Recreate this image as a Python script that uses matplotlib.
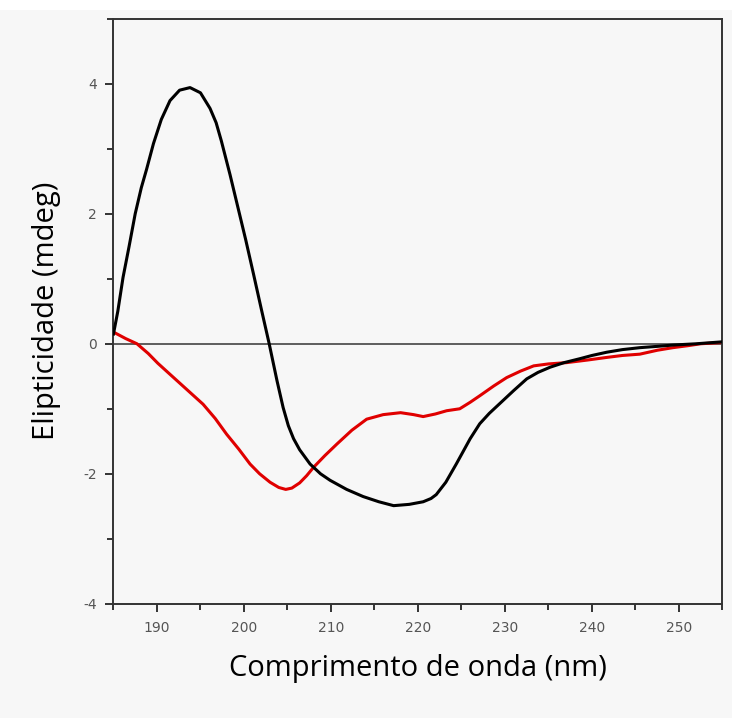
import numpy as np
import matplotlib.pyplot as plt
from matplotlib.patches import Rectangle
from matplotlib.ticker import MultipleLocator

plt.rcParams['axes.unicode_minus'] = False

# CD spectra (wavelength nm, ellipticity mdeg)
wl_black = [185.0, 185.5, 186.1, 186.8, 187.5, 188.2, 188.8, 189.6, 190.5, 191.5, 192.6,
            193.8, 195.0, 196.1, 196.8, 197.4, 198.4, 199.3, 200.2, 201.1, 202.0, 202.9,
            203.8, 204.5, 205.1, 205.7, 206.4, 207.6, 208.8, 209.9, 211.8, 213.7, 215.5,
            217.2, 219.0, 220.6, 221.5, 222.1, 223.2, 224.4, 226.0, 227.1, 228.2, 229.4,
            231.0, 232.5, 233.8, 235.2, 236.8, 238.6, 240.0, 241.7, 243.5, 245.5, 247.5,
            249.3, 252.0, 255.0]
cd_black = [0.15, 0.50, 1.02, 1.50, 2.00, 2.40, 2.68, 3.08, 3.45, 3.74, 3.90,
            3.94, 3.86, 3.62, 3.40, 3.12, 2.60, 2.10, 1.60, 1.07, 0.53, 0.00,
            -0.57, -0.98, -1.26, -1.46, -1.63, -1.85, -2.00, -2.10, -2.24, -2.35, -2.43,
            -2.49, -2.47, -2.43, -2.38, -2.32, -2.13, -1.85, -1.46, -1.23, -1.07, -0.92,
            -0.72, -0.54, -0.44, -0.36, -0.29, -0.23, -0.18, -0.13, -0.09, -0.06, -0.04,
            -0.02, 0.00, 0.03]

wl_red = [185.0, 186.4, 187.7, 189.0, 190.1, 191.5, 193.4, 195.3, 196.7, 198.0, 199.4,
          200.7, 201.8, 203.0, 204.0, 204.8, 205.5, 206.4, 207.2, 208.0, 209.3, 210.7,
          212.4, 214.1, 216.0, 218.0, 219.5, 220.6, 222.0, 223.3, 224.8, 226.0, 227.1,
          228.7, 230.2, 231.8, 233.3, 235.0, 237.1, 239.5, 241.7, 243.5, 245.5, 247.5,
          249.3, 251.0, 252.5, 255.0]
cd_red = [0.18, 0.08, 0.00, -0.15, -0.30, -0.47, -0.70, -0.93, -1.15, -1.39, -1.62,
          -1.85, -2.00, -2.13, -2.21, -2.24, -2.22, -2.14, -2.03, -1.90, -1.72, -1.54,
          -1.33, -1.16, -1.09, -1.06, -1.09, -1.12, -1.08, -1.03, -1.00, -0.90, -0.80,
          -0.65, -0.52, -0.42, -0.34, -0.31, -0.29, -0.25, -0.21, -0.18, -0.16, -0.10,
          -0.06, -0.03, 0.00, 0.02]

bg = '#f7f7f7'
fig = plt.figure(figsize=(7.32, 7.18), dpi=100, facecolor=bg)
fig.patches.append(Rectangle((0, 0.986), 1, 0.014, transform=fig.transFigure,
                             facecolor='white', edgecolor='none', zorder=0))
ax = fig.add_axes([0.155, 0.159, 0.832, 0.815])
ax.set_facecolor(bg)

ax.axhline(0, color='#444444', lw=1.2, zorder=1)
ax.plot(wl_red, cd_red, color='#e00000', lw=2.2, zorder=2, solid_joinstyle='round')
ax.plot(wl_black, cd_black, color='black', lw=2.2, zorder=3, solid_joinstyle='round')

ax.set_xlim(185, 255)
ax.set_ylim(-4, 5)
ax.xaxis.set_minor_locator(MultipleLocator(5))
ax.yaxis.set_minor_locator(MultipleLocator(1))
ax.set_yticks([-4, -2, 0, 2, 4])
ax.set_xticks([190, 200, 210, 220, 230, 240, 250])

for s in ax.spines.values():
    s.set_color('#333333')
    s.set_linewidth(1.4)
ax.tick_params(which='major', length=6, width=1.4, color='#333333',
               labelsize=10, labelcolor='#555555', pad=6)
ax.tick_params(which='minor', length=4, width=1.4, color='#333333')

ax.set_xlabel('Comprimento de onda (nm)', fontsize=21, family='Open Sans', labelpad=14)
ax.set_ylabel('Elipticidade (mdeg)', fontsize=21, family='Open Sans', labelpad=16)

fig.savefig('out.png', dpi=100, facecolor=bg)
